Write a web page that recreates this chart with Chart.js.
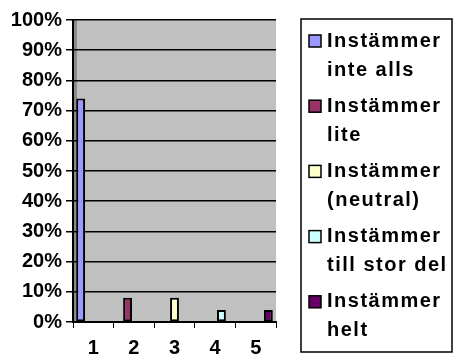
<!DOCTYPE html>
<html>
<head>
<meta charset="utf-8">
<script src="https://cdn.jsdelivr.net/npm/chart.js@4/dist/chart.umd.min.js"></script>
<style>
  html, body { margin: 0; padding: 0; background: #fff; }
  canvas { display: block; }
</style>
</head>
<body>
<canvas id="chart_answers" width="455" height="354"></canvas>
<script>
const categories = ['1', '2', '3', '4', '5'];
const seriesLabels = [
    ['Instämmer', 'inte alls'],
    ['Instämmer', 'lite'],
    ['Instämmer', '(neutral)'],
    ['Instämmer', 'till stor del'],
    ['Instämmer', 'helt']
];
const seriesValues = [74, 8, 8, 4, 4];
const seriesColors = ['#9999ff', '#993366', '#ffffcc', '#ccffff', '#660066'];

// one series per answer, each only has a value in its own category
const datasets = seriesLabels.map((lbl, i) => ({
    label: lbl.join(' '),
    data: categories.map((c, j) => (j === i ? seriesValues[i] : null)),
    backgroundColor: seriesColors[i],
    borderColor: '#000',
    borderWidth: 2,
    borderSkipped: false,
    categoryPercentage: 0.78,
    barPercentage: 1.4
}));

const boldFont = { family: '"Liberation Sans", Arial, sans-serif', size: 20, weight: 'bold' };

// grey wall behind the bars
const wallPlugin = {
    id: 'wall',
    beforeDraw(chart) {
        const { ctx, chartArea: a } = chart;
        ctx.save();
        ctx.fillStyle = '#c0c0c0';
        ctx.fillRect(a.left, a.top, a.right - a.left, a.bottom - a.top);
        ctx.fillStyle = '#8a8a8a';
        ctx.fillRect(a.left, a.top, 4, a.bottom - a.top);
        ctx.restore();
    }
};

// legend with two-line labels, drawn in a box on the right
const legendPlugin = {
    id: 'boxLegend',
    afterDraw(chart) {
        const ctx = chart.ctx;
        ctx.save();
        ctx.fillStyle = '#fff';
        ctx.fillRect(301, 19, 151, 333);
        ctx.strokeStyle = '#000';
        ctx.lineWidth = 1.5;
        ctx.strokeRect(301, 19, 151, 333);
        ctx.font = 'bold 20px "Liberation Sans", Arial, sans-serif';
        ctx.letterSpacing = '1.5px';
        ctx.textBaseline = 'middle';
        seriesLabels.forEach((lines, i) => {
            const y = 41 + i * 65.2;
            ctx.fillStyle = seriesColors[i];
            ctx.fillRect(309, y - 6, 12, 12);
            ctx.lineWidth = 1.5;
            ctx.strokeRect(309, y - 6, 12, 12);
            ctx.fillStyle = '#000';
            lines.forEach((t, k) => ctx.fillText(t, 327, y + k * 29));
        });
        ctx.restore();
    }
};

const ctx = document.querySelector('#chart_answers').getContext('2d');
const chart = new Chart(ctx, {
    type: 'bar',
    data: {
        labels: categories,
        datasets: datasets
    },
    options: {
        responsive: false,
        animation: false,
        layout: {
            padding: { left: 0, right: 179, top: 20, bottom: 0 }
        },
        scales: {
            x: {
                grid: {
                    display: true,
                    drawOnChartArea: false,
                    color: '#000',
                    tickLength: 6,
                    offset: true
                },
                border: { display: true, color: '#000', width: 2 },
                ticks: { color: '#000', font: boldFont, padding: 8 },
                afterFit(scale) { scale.height = 32; }
            },
            y: {
                min: 0,
                max: 100,
                grid: {
                    display: true,
                    color: '#000',
                    lineWidth: 1.5,
                    tickLength: 7
                },
                border: { display: true, color: '#000', width: 2 },
                ticks: {
                    stepSize: 10,
                    color: '#000',
                    font: boldFont,
                    padding: 4,
                    callback: v => v + '%'
                },
                afterFit(scale) { scale.width = 73; }
            }
        },
        plugins: {
            legend: { display: false },
            tooltip: { enabled: false },
            title: { display: false }
        }
    },
    plugins: [wallPlugin, legendPlugin]
});
</script>
</body>
</html>
